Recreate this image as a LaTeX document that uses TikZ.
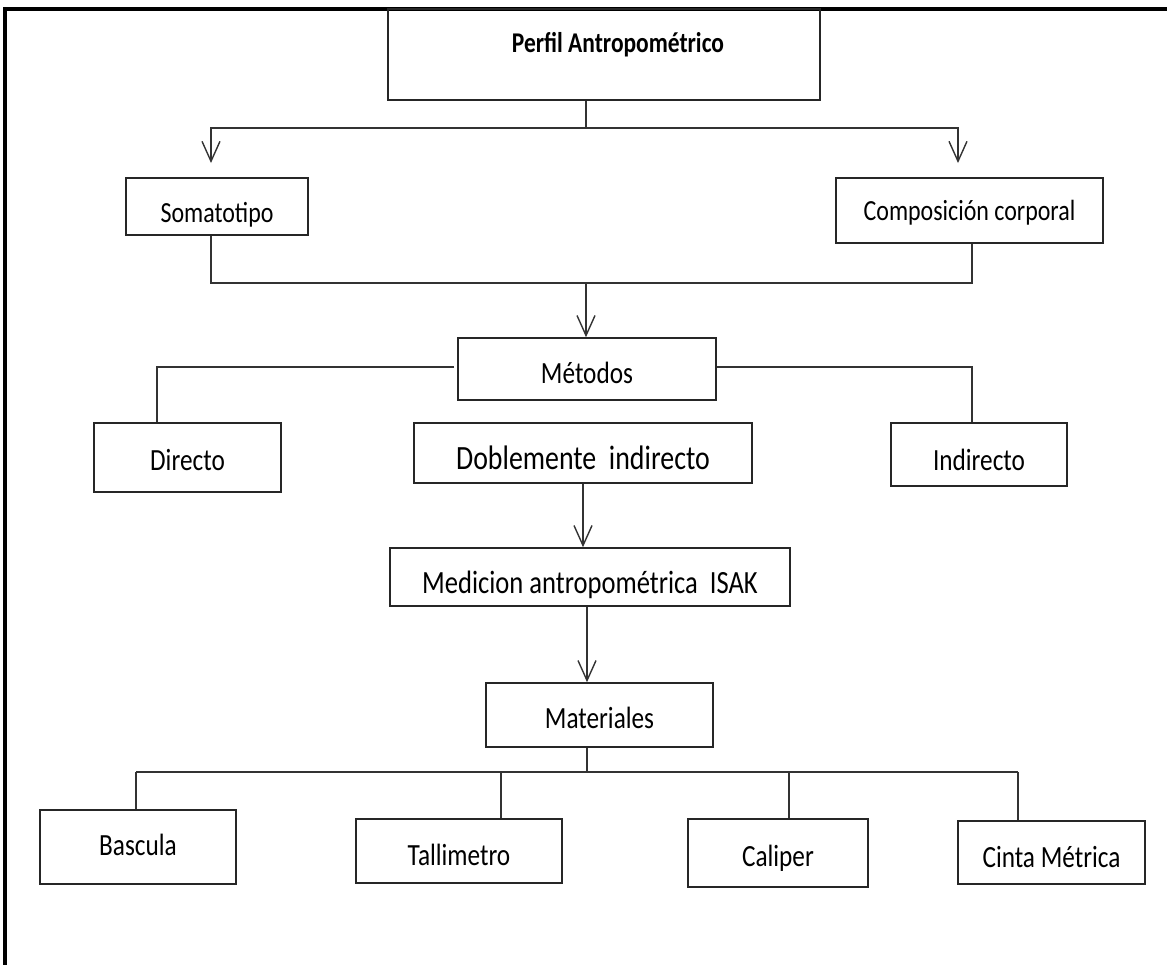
\documentclass[tikz,border=0pt]{standalone}
\usepackage{fontspec}
\setmainfont{Carlito}[FakeStretch=0.82]
\usetikzlibrary{arrows.meta}
\tikzset{
  box/.style={draw=black!85, line width=1.6pt, inner sep=0pt, align=center, font=\fontsize{30.8}{34}\selectfont},
  th/.style 2 args={text height=#1pt, text depth=#2pt},
  conn/.style={draw=black!80, line width=1.5pt},
  arr/.style={conn, -{Straight Barb[length=20pt,width=18pt,line width=1.4pt]}},
  frame/.style={draw=black, line width=3.5pt}
}
\begin{document}
\begin{tikzpicture}[x=1pt,y=-1pt]
\useasboundingbox (0,0) rectangle (1167,964);
\clip (0,0) rectangle (1167,964);
\fill[white] (0,0) rectangle (1167,964);
% outer frame (cropped)
\draw[frame] (5,1000) -- (5,9) -- (1200,9);
% boxes
\node[box, minimum width=432pt, th={43}{48}, font=\fontsize{28.6}{32}\selectfont\bfseries] (perfil) at (604,54.5) {\hspace*{28pt}Perfil Antropométrico};
\node[box, minimum width=182pt, th={44}{13}, font=\fontsize{29.2}{32}\selectfont] (soma) at (217,206.5) {Somatotipo};
\node[box, minimum width=267pt, th={42}{23}, font=\fontsize{29.2}{32}\selectfont] (comp) at (969.5,210.5) {Composición corporal};
\node[box, minimum width=258pt, th={45}{17}] (metodos) at (587,369) {Métodos};
\node[box, minimum width=187pt, th={47}{22}] (directo) at (187.5,457.5) {Directo};
\node[box, minimum width=338pt, th={46}{14}, font=\fontsize{34}{37}\selectfont] (doble) at (583,453) {Doblemente\ \ indirecto};
\node[box, minimum width=176pt, th={47}{16}] (indirecto) at (979,454.5) {Indirecto};
\node[box, minimum width=400pt, th={45}{13}, font=\fontsize{32.4}{35}\selectfont] (medicion) at (590,577) {Medicion antropométrica\ \ ISAK};
\node[box, minimum width=227pt, th={45}{19}] (materiales) at (599.5,715) {Materiales};
\node[box, minimum width=196pt, th={45}{29}] (bascula) at (138,847) {Bascula};
\node[box, minimum width=206pt, th={46}{18}] (talli) at (459,851) {Tallimetro};
\node[box, minimum width=180pt, th={47}{21}] (caliper) at (778,853) {Caliper};
\node[box, minimum width=187pt, th={46}{17}] (cinta) at (1051.5,852.5) {Cinta Métrica};
% junction coordinates
\coordinate (j1) at (586,128);
\coordinate (tipL) at (211,163);
\coordinate (tipR) at (958,163);
\coordinate (b2L) at (211,283);
\coordinate (b2R) at (972,283);
\coordinate (j2) at (586,283);
\coordinate (dL) at (157,367);
\coordinate (dR) at (972,367);
\coordinate (mL) at (454,367);
\coordinate (j3) at (587,772);
\coordinate (hL) at (136,772);
\coordinate (hR) at (1018,772);
\coordinate (t2) at (501,772);
\coordinate (t3) at (789,772);
% connectors
\draw[conn] (perfil.south -| j1) -- (j1);
\draw[arr] (j1) -| (tipL);
\draw[arr] (j1) -| (tipR);
\draw[conn] (soma.south -| b2L) -- (b2L) -- (b2R) -- (comp.south -| b2R);
\draw[arr] (j2) -- (metodos.north -| j2);
\draw[conn] (mL) -- (dL) -- (directo.north -| dL);
\draw[conn] (metodos.east |- dR) -- (dR) -- (indirecto.north -| dR);
\draw[arr] (doble.south) -- (doble.south |- medicion.north);
\draw[arr] (medicion.south -| j3) -- (materiales.north -| j3);
\draw[conn] (materiales.south -| j3) -- (j3);
\draw[conn] (hL) -- (hR);
\draw[conn] (hL) -- (bascula.north -| hL);
\draw[conn] (t2) -- (talli.north -| t2);
\draw[conn] (t3) -- (caliper.north -| t3);
\draw[conn] (hR) -- (cinta.north -| hR);
\end{tikzpicture}
\end{document}
